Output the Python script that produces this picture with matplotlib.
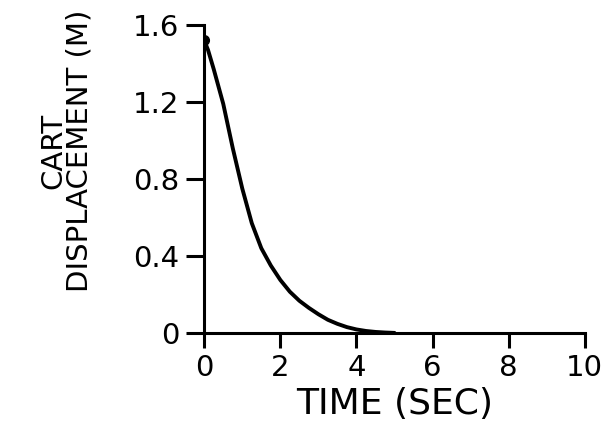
import matplotlib
matplotlib.use("Agg")
import matplotlib.pyplot as plt

# cart displacement response
time_s = [0.0, 0.1, 0.25, 0.5, 0.75, 1.0, 1.25, 1.5, 1.75, 2.0, 2.25, 2.5, 2.75,
          3.0, 3.25, 3.5, 3.75, 4.0, 4.25, 4.5, 4.75, 5.0]
disp_m = [1.52, 1.47, 1.37, 1.19, 0.96, 0.75, 0.57, 0.44, 0.35, 0.275, 0.214, 0.167, 0.13,
          0.097, 0.068, 0.047, 0.03, 0.018, 0.01, 0.005, 0.002, 0.0]

xticks = [0, 2, 4, 6, 8, 10]
yticks = [0, 0.4, 0.8, 1.2, 1.6]
ytick_labels = ["0", "0.4", "0.8", "1.2", "1.6"]

fig = plt.figure(figsize=(6.06, 4.23), dpi=100)
ax = fig.add_axes([0.337, 0.213, 0.628, 0.728])

ax.plot(time_s, disp_m, color="black", linewidth=2.8, solid_capstyle="round")
ax.plot(time_s[0], disp_m[0], "o", color="black", markersize=7)

ax.set_xlim(0, 10)
ax.set_ylim(0, 1.6)
ax.set_xticks(xticks)
ax.set_yticks(yticks)
ax.set_yticklabels(ytick_labels)

for side in ["top", "right"]:
    ax.spines[side].set_visible(False)
for side in ["left", "bottom"]:
    ax.spines[side].set_linewidth(2.2)

ax.tick_params(axis="both", direction="out", width=2.2, labelsize=21)
ax.tick_params(axis="y", length=13, pad=5)
ax.tick_params(axis="x", length=11, pad=4)

ax.set_xlabel("TIME (SEC)", fontsize=26)
ax.xaxis.set_label_coords(0.5, -0.175)
ax.set_ylabel("CART\nDISPLACEMENT (M)", fontsize=21, linespacing=0.92)
ax.yaxis.set_label_coords(-0.29, 0.59)

fig.savefig("out.png", dpi=100)
